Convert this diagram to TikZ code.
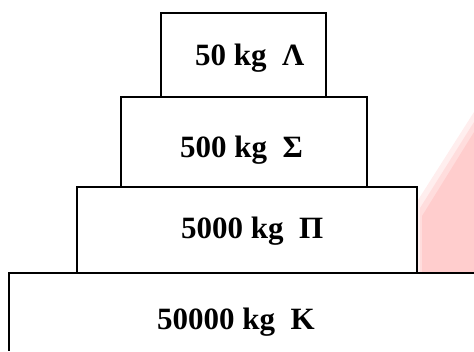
\documentclass[tikz,border=0pt]{standalone}
\usepackage{fontspec}
\setmainfont{Liberation Serif}
\definecolor{pinkfill}{RGB}{255,205,205}
\begin{document}
\begin{tikzpicture}[x=1pt,y=-1pt,
  boxstyle/.style={draw=black, line width=1.4pt, fill=white},
  label/.style={anchor=base west, inner sep=0pt, font=\fontsize{31}{36}\selectfont\bfseries}]
\useasboundingbox (0,0) rectangle (474,351);
% pink shading at the right
\fill[pinkfill, opacity=0.35] (418,273) -- (418,200) -- (474,112) -- (474,273) -- cycle;
\fill[pinkfill, opacity=0.5] (420,273) -- (420,208) -- (474,122) -- (474,273) -- cycle;
\fill[pinkfill] (422,273) -- (422,216) -- (474,132) -- (474,273) -- cycle;
% boxes
\coordinate (b4a) at (474,273);
\coordinate (b4b) at (9,273);
\coordinate (b4c) at (9,351);
\draw[line width=1.4pt] (b4a) -- (b4b) -- (b4c);
\node[boxstyle, minimum width=340pt, minimum height=86pt, inner sep=0pt] (b3) at (247,230) {};
\node[boxstyle, minimum width=246pt, minimum height=90pt, inner sep=0pt] (b2) at (244,142) {};
\node[boxstyle, minimum width=165pt, minimum height=84pt, inner sep=0pt] (b1) at (243.5,55) {};
% labels
\node[label] (t1) at (195,65) {50 kg\ \ Λ};
\node[label] (t2) at (180,157) {500 kg\ \ Σ};
\node[label] (t3) at (181,238) {5000 kg\ \ Π};
\node[label] (t4) at (157,329) {50000 kg\ \ K};
\end{tikzpicture}
\end{document}
